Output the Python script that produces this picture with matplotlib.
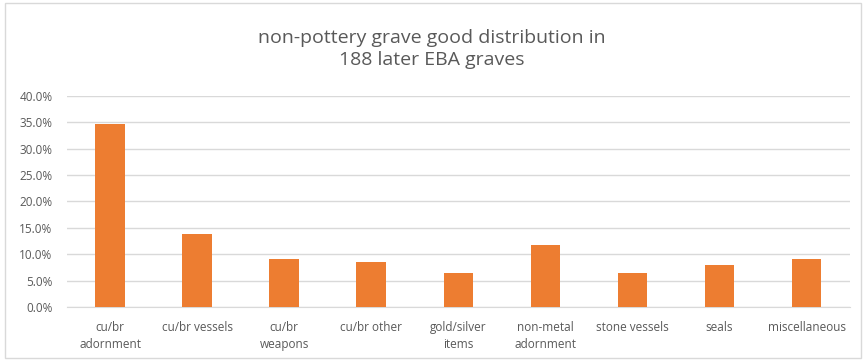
import matplotlib.pyplot as plt
from matplotlib.patches import Rectangle

# categorías y porcentajes de tumbas (n = 188)
categorias = ['cu/br\nadornment', 'cu/br vessels', 'cu/br\nweapons', 'cu/br other',
              'gold/silver\nitems', 'non-metal\nadornment', 'stone vessels', 'seals',
              'miscellaneous']
porcentajes = [34.6, 13.8, 9.0, 8.5, 6.4, 11.7, 6.4, 8.0, 9.0]
ticksY = [0, 5, 10, 15, 20, 25, 30, 35, 40]

plt.rcParams['font.family'] = ['Open Sans', 'DejaVu Sans']

fig = plt.figure(figsize=(8.64, 3.62), dpi=100)
ax = fig.add_axes([0.077, 0.152, 0.907, 0.583])

x = range(len(categorias))
ax.bar(x, porcentajes, width=0.34, color='#ED7D31', zorder=3)

ax.set_xlim(-0.5, len(categorias) - 0.5)
ax.set_ylim(0, 40)
ax.set_yticks(ticksY)
ax.set_yticklabels([f'{v:.1f}%' for v in ticksY])
ax.set_xticks(list(x))
ax.set_xticklabels(categorias, linespacing=1.45)

ax.grid(axis='y', color='#D9D9D9', linewidth=1, zorder=0)
for lado in ['top', 'right', 'left']:
    ax.spines[lado].set_visible(False)
ax.spines['bottom'].set_color('#D9D9D9')
ax.tick_params(axis='both', length=0, labelsize=8.5, labelcolor='#595959')
ax.tick_params(axis='x', pad=10)
ax.tick_params(axis='y', pad=10)

fig.text(0.5, 0.865, 'non-pottery grave good distribution in\n188 later EBA graves',
         ha='center', va='center', fontsize=14, color='#595959', linespacing=1.3)

# borde del gráfico
fig.patches.append(Rectangle((0.006, 0.012), 0.99, 0.98, transform=fig.transFigure,
                             fill=False, edgecolor='#D9D9D9', linewidth=1))

fig.savefig('out.png', dpi=100)
